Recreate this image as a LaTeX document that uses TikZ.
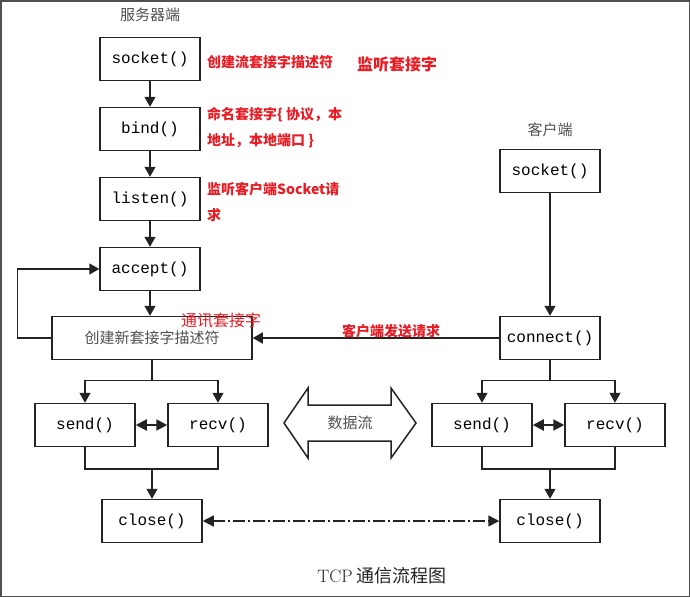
\documentclass[tikz,border=0pt]{standalone}
\usepackage{fontspec}
\setmonofont{Liberation Mono}
\newfontfamily\cjk{Noto Sans CJK SC}
\usepackage{tikz}
\usetikzlibrary{arrows.meta, positioning, calc}
\definecolor{TCPInk}{RGB}{35,35,35}
\definecolor{TCPGrey}{RGB}{80,80,80}
\definecolor{TCPRed}{RGB}{232,28,36}

\begin{document}
\begin{tikzpicture}[x=1pt,y=-1pt,
  fnbox/.style={draw=TCPInk, line width=1.5pt, minimum width=100pt, minimum height=43pt,
    inner sep=0pt, font=\ttfamily\fontsize{16}{18}\selectfont},
  headtext/.style={text=TCPGrey, font=\cjk\fontsize{15}{17}\selectfont},
  flow/.style={TCPInk, line width=1.5pt, -{Triangle[length=10pt,width=11pt]}},
  wire/.style={TCPInk, line width=1.5pt},
  pair/.style={TCPInk, line width=2pt, {Triangle[length=11pt,width=11pt]}-{Triangle[length=11pt,width=11pt]}},
  note/.style={anchor=north west, text=TCPRed, inner sep=0pt, align=left,
    font=\cjk\bfseries\fontsize{14}{26}\selectfont}]
  \path[use as bounding box] (0,0) rectangle (690,597);
  \draw[TCPGrey, line width=1.5pt] (0.75,0.75) rectangle (689.25,596.25);

  % server side
  \node[headtext] (srvhead) at (150,15) {服务器端};
  \node[fnbox] (ssock) at (150,59) {socket()};
  \node[fnbox] (sbind) at (150,129) {bind()};
  \node[fnbox] (slisten) at (150,199) {listen()};
  \node[fnbox] (saccept) at (150,269) {accept()};
  \node[fnbox, minimum width=200pt, text=TCPGrey, font=\cjk\fontsize{15}{17}\selectfont] (snew) at (152,338) {创建新套接字描述符};
  \node[fnbox] (ssend) at (85,425) {send()};
  \node[fnbox] (srecv) at (218,425) {recv()};
  \node[fnbox] (sclose) at (152,521) {close()};

  % client side
  \node[headtext] (clihead) at (550,130) {客户端};
  \node[fnbox] (csock) at (550,171) {socket()};
  \node[fnbox] (cconn) at (550,338) {connect()};
  \node[fnbox] (csend) at (482,425) {send()};
  \node[fnbox] (crecv) at (615,425) {recv()};
  \node[fnbox] (cclose) at (550,521) {close()};

  \draw[flow] (ssock) -- (sbind);
  \draw[flow] (sbind) -- (slisten);
  \draw[flow] (slisten) -- (saccept);
  \draw[flow] (saccept) -- (saccept |- snew.north);
  \draw[flow] (snew.west) -- ++(-34,0) |- (saccept.west);
  \draw[flow] (csock) -- (cconn);
  \draw[flow] (cconn) -- (snew);

  % split to send / recv
  \coordinate (ssplit) at ($(snew.south)+(0,20)$);
  \draw[wire] (snew.south) -- (ssplit);
  \draw[flow] (ssplit) -| (ssend.north);
  \draw[flow] (ssplit) -| (srecv.north);
  \coordinate (csplit) at ($(cconn.south)+(0,20)$);
  \draw[wire] (cconn.south) -- (csplit);
  \draw[flow] (csplit) -| (csend.north);
  \draw[flow] (csplit) -| (crecv.north);

  \draw[pair] (ssend) -- (srecv);
  \draw[pair] (csend) -- (crecv);

  % join to close
  \coordinate (sjoin) at ($(sclose.north)+(0,-30)$);
  \draw[wire] (ssend.south) |- (sjoin) -| (srecv.south);
  \draw[flow] (sjoin) -- (sclose);
  \coordinate (cjoin) at ($(cclose.north)+(0,-30)$);
  \draw[wire] (csend.south) |- (cjoin) -| (crecv.south);
  \draw[flow] (cjoin) -- (cclose);

  \draw[TCPInk, line width=1.5pt, dash pattern=on 12pt off 3pt on 2pt off 3pt,
    {Triangle[length=11pt,width=11pt]}-{Triangle[length=11pt,width=11pt]}] (sclose) -- (cclose);

  % data stream
  \node[headtext] (dstream) at (350,423) {数据流};
  \draw[TCPInk, line width=1.5pt] (284,423) -- (308,388) -- (308,405) -- (391,405)
    -- (391,388) -- (416,423) -- (391,458) -- (391,441) -- (308,441) -- (308,458) -- cycle;

  % red notes
  \node[note] (nsock) at (207,55) {创建流套接字描述符};
  \node[note, font=\cjk\bfseries\fontsize{16}{18}\selectfont] (nlisten) at (357,56) {监听套接字};
  \node[note] (nbind) at (207,107) {命名套接字{\{} 协议，本\\地址，本地端口 \}};
  \node[note] (nreq) at (207,182) {监听客户端Socket请\\求};
  \node[note, font=\cjk\fontsize{16}{18}\selectfont] (ncomm) at (181,313) {通讯套接字};
  \node[note] (nsend) at (342,324) {客户端发送请求};

  \node[text=TCPInk, font=\cjk\fontsize{18}{20}\selectfont] (title) at (382,576) {{\rmfamily TCP} 通信流程图};
\end{tikzpicture}
\end{document}
